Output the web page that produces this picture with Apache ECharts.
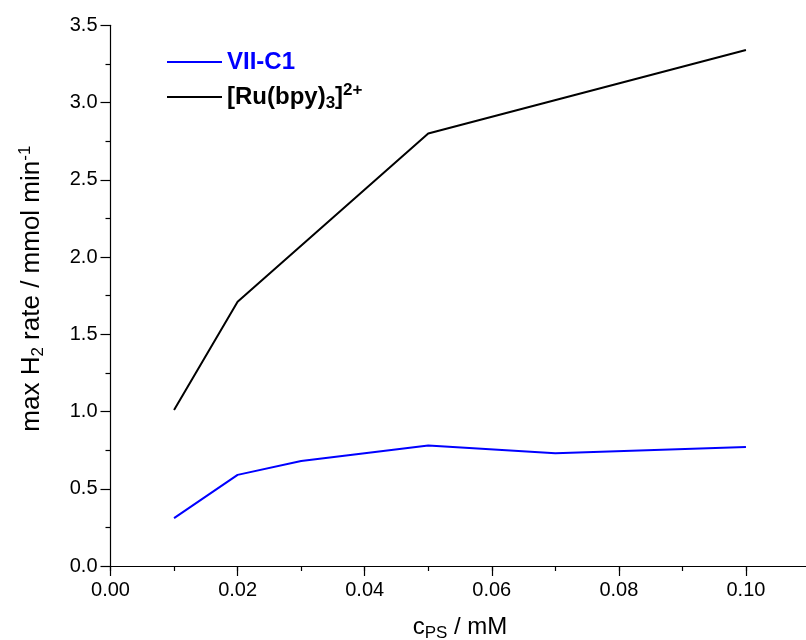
<!DOCTYPE html>
<html>
<head>
<meta charset="utf-8">
<script src="https://cdn.jsdelivr.net/npm/echarts@6/dist/echarts.min.js"></script>
<style>
html,body{margin:0;padding:0;background:#fff;}
#c{width:806px;height:640px;}
</style>
</head>
<body>
<div id="c"></div>
<script>
// Data
const xBlue = [0.01, 0.02, 0.03, 0.05, 0.07, 0.10];
const yBlue = [0.31, 0.59, 0.68, 0.78, 0.73, 0.77];
const xBlack = [0.01, 0.02, 0.05, 0.10];
const yBlack = [1.01, 1.71, 2.80, 3.34];
const nameBlue = 'VII-C1';
const nameBlack = '[Ru(bpy)3]2+';

const FONT = '"Liberation Sans", Arial, sans-serif';
const chart = echarts.init(document.getElementById('c'), null, {renderer: 'canvas'});

const pairs = (xs, ys) => xs.map((x, i) => [x, ys[i]]);

const option = {
  animation: false,
  backgroundColor: '#fff',
  textStyle: {fontFamily: FONT, color: '#000'},
  grid: {left: 110.5, top: 25.3, bottom: 74, right: -3.5, containLabel: false, outerBoundsMode: 'none'},
  xAxis: [
    {
      type: 'value', position: 'bottom', min: 0, max: 0.11, interval: 0.02,
      axisLine: {show: true, lineStyle: {color: '#000', width: 1.2}},
      axisTick: {show: true, length: 10, lineStyle: {color: '#000', width: 1.2}},
      splitLine: {show: false},
      axisLabel: {
        color: '#000', fontSize: 20, fontFamily: FONT, margin: 14,
        formatter: v => (v > 0.105 ? '' : v.toFixed(2))
      },
      name: '{m|c}{sub|PS}{m| / mM}',
      nameLocation: 'middle', nameGap: 46,
      nameTextStyle: {
        fontFamily: FONT, color: '#000',
        rich: {
          m: {fontSize: 24, lineHeight: 30, fontFamily: FONT, color: '#000', verticalAlign: 'middle'},
          sub: {fontSize: 17, lineHeight: 13, fontFamily: FONT, color: '#000', verticalAlign: 'bottom'}
        }
      }
    },
    {
      type: 'value', position: 'bottom', min: 0, max: 0.11, interval: 0.01,
      axisLine: {show: false},
      axisTick: {show: true, length: 5, lineStyle: {color: '#000', width: 1.2}},
      axisLabel: {show: false},
      splitLine: {show: false}
    }
  ],
  yAxis: {
    type: 'value', min: 0, max: 3.5, interval: 0.5,
    axisLine: {show: true, lineStyle: {color: '#000', width: 1.2}},
    axisTick: {show: true, length: 10, lineStyle: {color: '#000', width: 1.2}},
    minorTick: {show: true, splitNumber: 2, length: 5, lineStyle: {color: '#000', width: 1.2}},
    splitLine: {show: false},
    axisLabel: {color: '#000', fontSize: 20, fontFamily: FONT, margin: 13, formatter: v => v.toFixed(1)},
    name: '{m|max H}{sub|2}{m| rate / mmol min}{sup|-1}',
    nameLocation: 'middle', nameGap: 64, nameRotate: 90,
    nameTextStyle: {
      fontFamily: FONT, color: '#000', padding: [0, 0, 0, 14],
      rich: {
        m: {fontSize: 26, lineHeight: 30, fontFamily: FONT, color: '#000', verticalAlign: 'middle'},
        sub: {fontSize: 17, lineHeight: 13, fontFamily: FONT, color: '#000', verticalAlign: 'bottom'},
        sup: {fontSize: 17, lineHeight: 13, fontFamily: FONT, color: '#000', verticalAlign: 'top'}
      }
    }
  },
  legend: [
    {
      data: [nameBlue], orient: 'vertical', left: 167, top: 47, padding: 0,
      icon: 'rect', itemWidth: 55, itemHeight: 2, itemGap: 0,
      textStyle: {color: '#0000ff', fontSize: 24, lineHeight: 30, fontWeight: 'bold', fontFamily: FONT}
    },
    {
      data: [nameBlack], orient: 'vertical', left: 167, top: 82, padding: 0,
      icon: 'rect', itemWidth: 55, itemHeight: 2, itemGap: 0,
      formatter: () => '{b|[Ru(bpy)}{sub|3}{b|]}{sup|2+}',
      textStyle: {
        color: '#000', fontSize: 24, fontWeight: 'bold', fontFamily: FONT,
        rich: {
          b: {fontSize: 24, fontWeight: 'bold', lineHeight: 30, fontFamily: FONT, color: '#000', verticalAlign: 'middle'},
          sub: {fontSize: 17, fontWeight: 'bold', lineHeight: 13, fontFamily: FONT, color: '#000', verticalAlign: 'bottom'},
          sup: {fontSize: 17, fontWeight: 'bold', lineHeight: 13, fontFamily: FONT, color: '#000', verticalAlign: 'top'}
        }
      }
    }
  ],
  series: [
    {
      name: nameBlue, type: 'line', xAxisIndex: 0, symbol: 'none',
      data: pairs(xBlue, yBlue),
      lineStyle: {color: '#0000ff', width: 2}, itemStyle: {color: '#0000ff'}
    },
    {
      name: nameBlack, type: 'line', xAxisIndex: 0, symbol: 'none',
      data: pairs(xBlack, yBlack),
      lineStyle: {color: '#000', width: 2}, itemStyle: {color: '#000'}
    }
  ]
};
chart.setOption(option);
</script>
</body>
</html>
